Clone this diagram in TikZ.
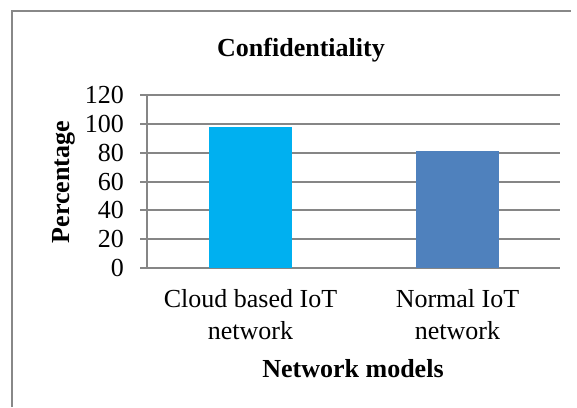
\documentclass[tikz,border=0pt]{standalone}
\usepackage{fontspec}
\setmainfont{Liberation Serif}
\usepackage{xcolor}
\usetikzlibrary{positioning}
\definecolor{gridgray}{RGB}{134,134,134}
\definecolor{framegray}{RGB}{136,136,136}
\definecolor{cloudbar}{RGB}{0,176,240}
\definecolor{normalbar}{RGB}{79,129,189}
\tikzstyle{ticklabel} = [anchor=east, inner sep=0pt, font=\fontsize{26}{32}\selectfont]
\tikzstyle{catlabel}  = [anchor=base, align=center, inner sep=0pt, font=\fontsize{26}{32}\selectfont]
\tikzstyle{axistitle} = [inner sep=0pt, font=\fontsize{26}{32}\selectfont\bfseries]
\tikzstyle{gridline}  = [gridgray, line width=2pt]

\begin{document}
\begin{tikzpicture}[x=1pt, y=-1pt]
    \useasboundingbox (0,0) rectangle (577,407);
    \draw [framegray, line width=2pt] (12,407) -- (12,11) -- (571,11);

    \node (title) [axistitle, anchor=base] at (301,56) {Confidentiality};

    \begin{scope}[shift={(0,268)}, y=1.4417pt]
        \foreach \v in {0,20,...,120} {
            \draw [gridline] (140,\v) -- (560,\v);
            \node (tick\v) [ticklabel] at (124,\v) {\v};
        }
        \draw [gridline] (147,0) -- (147,120);
        \fill [cloudbar] (209,0) rectangle (292,98);
        \fill [normalbar] (416,0) rectangle (499,81);
    \end{scope}

    \node (cloud) [catlabel] at (250.5,339) {Cloud based IoT\\network};
    \node (normal) [catlabel] at (457.5,339) {Normal IoT\\network};
    \node (xtitle) [axistitle, anchor=base] at (353,377) {Network models};
    \node (ytitle) [axistitle, rotate=90] at (64,182) {Percentage};
\end{tikzpicture}
\end{document}
